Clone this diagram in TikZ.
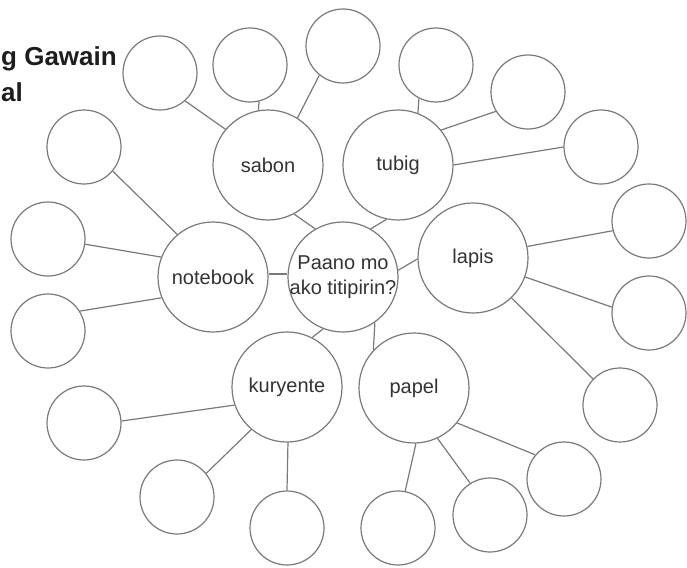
\documentclass[tikz,border=0pt]{standalone}
\usepackage{fontspec}
\setmainfont{Liberation Sans}
\begin{document}
\begin{tikzpicture}[x=1pt,y=-1pt,
  big/.style={circle,draw=linegray,line width=1.2pt,fill=white,inner sep=0pt,minimum size=110pt},
  small/.style={circle,draw=linegray,line width=1.2pt,fill=white,inner sep=0pt,minimum size=74pt},
  lbl/.style={text=txtgray,font=\fontsize{20}{25}\selectfont,align=center,inner sep=0pt},
  conn/.style={draw=linegray,line width=1.2pt},
  title/.style={text=titlecol,font=\fontsize{26}{32}\selectfont\bfseries,inner sep=0pt}]
\definecolor{linegray}{HTML}{7A7A7A}
\definecolor{txtgray}{HTML}{333333}
\definecolor{titlecol}{HTML}{1E1E1E}
\useasboundingbox (0,0) rectangle (687,567);
\fill[white] (0,0) rectangle (687,567);
% big circles
\node[big,label={[lbl]center:sabon}] (sabon) at (268,165) {};
\node[big,label={[lbl]center:tubig}] (tubig) at (398,165) {};
\node[big,label={[lbl]center:notebook}] (notebook) at (213,277) {};
\node[big,label={[lbl]center:Paano mo\\ako titipirin?}] (ctr) at (343,277) {};
\node[big,label={[lbl]center:lapis}] (lapis) at (473,258) {};
\node[big,label={[lbl]center:kuryente}] (kuryente) at (287,387) {};
\node[big,label={[lbl]center:papel}] (papel) at (414,388) {};
% small circles
\node[small] (L) at (160,73) {};
\node[small] (A) at (250,65) {};
\node[small] (B) at (343,46) {};
\node[small] (C) at (436,65) {};
\node[small] (D) at (528,92) {};
\node[small] (E) at (601,147) {};
\node[small] (F) at (649,221) {};
\node[small] (G) at (649,313) {};
\node[small] (H) at (620,405) {};
\node[small] (R) at (564,479) {};
\node[small] (Q) at (490,515) {};
\node[small] (P) at (398,528) {};
\node[small] (O) at (287,528) {};
\node[small] (N) at (177,497) {};
\node[small] (M) at (84,423) {};
\node[small] (K) at (48,331) {};
\node[small] (J) at (48,239) {};
\node[small] (I) at (84,147) {};
% title
\node[title,anchor=base west] (t1) at (1,66) {g Gawain};
\node[title,anchor=base west] (t2) at (1,102) {al};
% connectors
\draw[conn] (L.-48) -- (sabon.140);
\draw[conn] (A.-76) -- (sabon.100);
\draw[conn] (B.-129) -- (sabon.58);
\draw[conn] (C.-117) -- (tubig.69);
\draw[conn] (D.-149) -- (tubig.39);
\draw[conn] (E.180) -- (tubig.0);
\draw[conn] (F.195) -- (lapis.12);
\draw[conn] (G.171) -- (lapis.-20);
\draw[conn] (H.136) -- (lapis.-46);
\draw[conn] (R.140) -- (papel.-39);
\draw[conn] (Q.122) -- (papel.-65);
\draw[conn] (P.79) -- (papel.-88);
\draw[conn] (O.90) -- (kuryente.-89);
\draw[conn] (N.39) -- (kuryente.-130);
\draw[conn] (M.3) -- (kuryente.199);
\draw[conn] (K.32) -- (notebook.202);
\draw[conn] (J.-8) -- (notebook.159);
\draw[conn] (I.-40) -- (notebook.130);
\draw[conn] (sabon.-62) -- (ctr.120);
\draw[conn] (tubig.-102) -- (ctr.60);
\draw[conn] (notebook.3) -- (ctr.177);
\draw[conn] (lapis.181) -- (ctr.7);
\draw[conn] (kuryente.63) -- (ctr.-111);
\draw[conn] (papel.137) -- (ctr.-55);
\end{tikzpicture}
\end{document}
